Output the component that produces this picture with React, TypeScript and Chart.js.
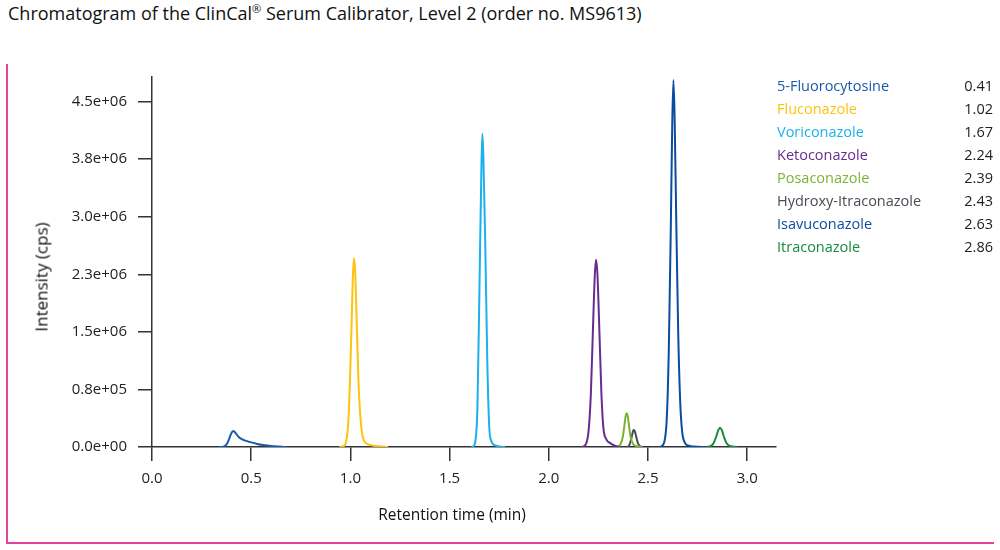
import { useEffect, useRef } from "react";
import { Chart, registerables } from "chart.js";

Chart.register(...registerables);

const compoundNames = [
	"5-Fluorocytosine",
	"Fluconazole",
	"Voriconazole",
	"Ketoconazole",
	"Posaconazole",
	"Hydroxy-Itraconazole",
	"Isavuconazole",
	"Itraconazole",
];
const retentionTimes = ["0.41", "1.02", "1.67", "2.24", "2.39", "2.43", "2.63", "2.86"];
const compoundColors = ["#1a5aa8", "#ffc20e", "#1cb0ee", "#662d91", "#7ab333", "#4b4b55", "#0a4c9e", "#178a3c"];

// peak traces: retention time (min) and intensity (cps)
const fluorocytosineT = [0.335, 0.36, 0.375, 0.388, 0.398, 0.41, 0.422, 0.437, 0.455, 0.475, 0.5, 0.53, 0.56, 0.6, 0.64, 0.68];
const fluorocytosineI = [0, 5e3, 3e4, 1.0e5, 1.7e5, 2.08e5, 1.8e5, 1.3e5, 1.0e5, 8e4, 6e4, 4e4, 2.5e4, 1.2e4, 5e3, 0];

const fluconazoleT = [0.945, 0.965, 0.978, 0.99, 0.998, 1.006, 1.012, 1.018, 1.024, 1.031, 1.04, 1.05, 1.06, 1.072, 1.09, 1.12, 1.16, 1.19];
const fluconazoleI = [0, 1e4, 7e4, 3.5e5, 9e5, 1.6e6, 2.2e6, 2.46e6, 2.28e6, 1.7e6, 9e5, 4e5, 1.6e5, 7e4, 3.5e4, 1.5e4, 5e3, 0];

const voriconazoleT = [1.61, 1.62, 1.63, 1.64, 1.65, 1.66, 1.665, 1.67, 1.68, 1.69, 1.7, 1.71, 1.73, 1.76, 1.78];
const voriconazoleI = [0, 1e4, 8e4, 5e5, 2.0e6, 3.6e6, 4.08e6, 3.8e6, 2.6e6, 1.1e6, 2.5e5, 8e4, 2e4, 5e3, 0];

const ketoconazoleT = [2.165, 2.185, 2.2, 2.212, 2.222, 2.232, 2.238, 2.245, 2.255, 2.265, 2.275, 2.29, 2.31, 2.33, 2.355];
const ketoconazoleI = [0, 3e4, 2e5, 7e5, 1.5e6, 2.25e6, 2.44e6, 2.25e6, 1.5e6, 7e5, 2.5e5, 1.0e5, 5e4, 2e4, 0];

const posaconazoleT = [2.345, 2.36, 2.372, 2.38, 2.387, 2.392, 2.398, 2.405, 2.413, 2.425, 2.445, 2.47];
const posaconazoleI = [0, 3e4, 1.2e5, 2.6e5, 4.0e5, 4.4e5, 4.0e5, 2.6e5, 1.2e5, 4e4, 1e4, 0];

const hydroxyItraconazoleT = [2.395, 2.405, 2.413, 2.42, 2.425, 2.429, 2.434, 2.441, 2.449, 2.458, 2.47];
const hydroxyItraconazoleI = [0, 2e4, 8e4, 1.6e5, 2.1e5, 2.2e5, 2.0e5, 1.3e5, 5e4, 1.5e4, 0];

const isavuconazoleT = [2.56, 2.58, 2.595, 2.605, 2.615, 2.622, 2.628, 2.634, 2.642, 2.652, 2.662, 2.672, 2.685, 2.7, 2.73, 2.79];
const isavuconazoleI = [0, 5e4, 4e5, 1.3e6, 2.9e6, 4.2e6, 4.78e6, 4.3e6, 3.0e6, 1.5e6, 6e5, 2e5, 6e4, 2e4, 5e3, 0];

const itraconazoleT = [2.795, 2.815, 2.83, 2.843, 2.853, 2.863, 2.873, 2.883, 2.896, 2.912, 2.948];
const itraconazoleI = [0, 1e4, 5e4, 1.3e5, 2.1e5, 2.5e5, 2.1e5, 1.3e5, 5e4, 1.5e4, 0];

const peakTimes = [fluorocytosineT, fluconazoleT, voriconazoleT, ketoconazoleT, posaconazoleT, hydroxyItraconazoleT, isavuconazoleT, itraconazoleT];
const peakIntensities = [fluorocytosineI, fluconazoleI, voriconazoleI, ketoconazoleI, posaconazoleI, hydroxyItraconazoleI, isavuconazoleI, itraconazoleI];

const xTickValues = [0, 0.5, 1.0, 1.5, 2.0, 2.5, 3.0];
const xTickLabels = ["0.0", "0.5", "1.0", "1.5", "2.0", "2.5", "3.0"];
const yTickValues = [0, 0.75e6, 1.5e6, 2.25e6, 3.0e6, 3.75e6, 4.5e6];
const yTickLabels = ["0.0e+00", "0.8e+05", "1.5e+06", "2.3e+06", "3.0e+06", "3.8e+06", "4.5e+06"];

const FONT = "'Open Sans', 'Noto Sans', sans-serif";
const AXIS = "#333333";
const PINK = "#e4449b";

export default function App() {
	const canvasRef = useRef<HTMLCanvasElement | null>(null);

	useEffect(() => {
		document.body.style.margin = "0";
		if (!canvasRef.current) {
			return;
		}

		const chart = new Chart(canvasRef.current, {
			type: "line",
			data: {
				datasets: compoundNames.map((name, k) => ({
					label: name,
					data: peakTimes[k].map((t, j) => ({ x: t, y: peakIntensities[k][j] })),
					borderColor: compoundColors[k],
					borderWidth: 2,
					pointRadius: 0,
					fill: false,
					cubicInterpolationMode: "monotone" as const,
				})),
			},
			options: {
				animation: false,
				responsive: true,
				maintainAspectRatio: false,
				layout: { padding: { left: 0, right: 224, top: 77, bottom: 0 } },
				plugins: {
					legend: { display: false },
					tooltip: { enabled: false },
				},
				scales: {
					x: {
						type: "linear",
						min: 0,
						max: 3.145,
						afterBuildTicks: (scale) => {
							scale.ticks = xTickValues.map((v) => ({ value: v }));
						},
						afterFit: (scale) => {
							scale.height = 103;
						},
						ticks: {
							color: "#222",
							font: { family: FONT, size: 15 },
							padding: 9,
							callback: (_v, i) => xTickLabels[i],
						},
						grid: { drawOnChartArea: false, drawTicks: true, tickLength: 14, color: AXIS, lineWidth: 1.5 },
						border: { display: true, color: AXIS, width: 1.5 },
					},
					y: {
						type: "linear",
						min: 0,
						max: 4.82e6,
						afterBuildTicks: (scale) => {
							scale.ticks = yTickValues.map((v) => ({ value: v }));
						},
						afterFit: (scale) => {
							scale.width = 152;
						},
						ticks: {
							color: "#222",
							font: { family: FONT, size: 15 },
							padding: 11,
							callback: (_v, i) => yTickLabels[i],
						},
						grid: { drawOnChartArea: false, drawTicks: true, tickLength: 14, color: AXIS, lineWidth: 1.5 },
						border: { display: true, color: AXIS, width: 1.5 },
					},
				},
			},
		});

		return () => {
			chart.destroy();
		};
	}, []);

	return (
		<div style={{ position: "relative", width: 1000, height: 550, fontFamily: FONT, background: "#fff" }}>
			<div style={{ position: "absolute", left: 8, top: 2, fontSize: 18, lineHeight: "22px", color: "#111", whiteSpace: "nowrap" }}>
				Chromatogram of the ClinCal<sup style={{ fontSize: 11, lineHeight: 0 }}>®</sup> Serum Calibrator, Level 2 (order no. MS9613)
			</div>
			<div style={{ position: "absolute", left: 6, top: 64, width: 2, height: 480, background: PINK }} />
			<div style={{ position: "absolute", left: 6, top: 542, width: 988, height: 2, background: PINK }} />
			<div style={{ position: "absolute", left: 0, top: 0, width: 1000, height: 550 }}>
				<canvas ref={canvasRef} aria-label="Chromatogram of antifungal compounds" />
			</div>
			<div
				style={{
					position: "absolute",
					left: 452,
					top: 514,
					transform: "translate(-50%, -50%)",
					fontSize: 15.5,
					color: "#111",
					whiteSpace: "nowrap",
				}}
			>
				Retention time (min)
			</div>
			<div
				style={{
					position: "absolute",
					left: 41,
					top: 277,
					transform: "translate(-50%, -50%) rotate(-90deg)",
					fontSize: 17,
					color: "#111",
					whiteSpace: "nowrap",
				}}
			>
				Intensity (cps)
			</div>
			<div style={{ position: "absolute", left: 777, top: 74, width: 216, fontSize: 14.5, lineHeight: "23px" }}>
				{compoundNames.map((name, k) => (
					<div key={name} style={{ display: "flex", justifyContent: "space-between" }}>
						<span style={{ color: compoundColors[k] }}>{name}</span>
						<span style={{ color: "#222" }}>{retentionTimes[k]}</span>
					</div>
				))}
			</div>
		</div>
	);
}
